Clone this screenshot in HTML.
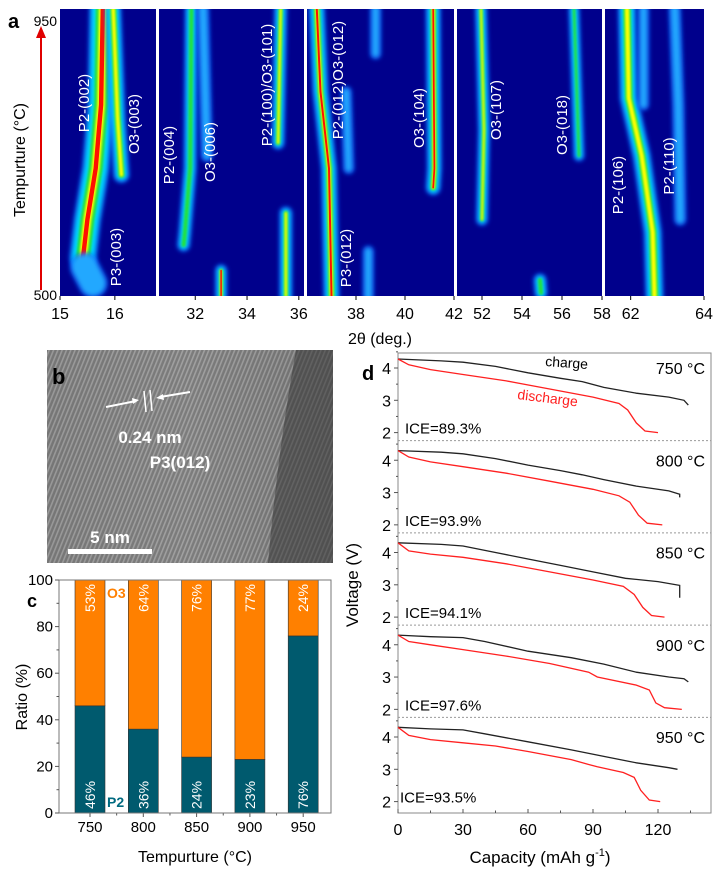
<!DOCTYPE html>
<html><head><meta charset="utf-8"><style>
html,body{margin:0;padding:0;background:#fff}
svg{display:block;font-family:"Liberation Sans",Arial,sans-serif}
</style></head><body>
<svg id="fig" width="718" height="872" viewBox="0 0 718 872" xmlns="http://www.w3.org/2000/svg">
<defs>
<filter id="bl" filterUnits="userSpaceOnUse" x="0" y="0" width="718" height="872"><feGaussianBlur stdDeviation="2.2"/></filter>
<filter id="bl2" filterUnits="userSpaceOnUse" x="0" y="0" width="718" height="872"><feGaussianBlur stdDeviation="1"/></filter>
<pattern id="lat" width="4" height="4" patternUnits="userSpaceOnUse" patternTransform="rotate(22)">
<rect width="4" height="4" fill="#7c7c7c"/><rect width="1.6" height="4" fill="#a0a0a0"/></pattern>
<linearGradient id="temg" x1="0" y1="0" x2="1" y2="0"><stop offset="0" stop-color="#000" stop-opacity="0.05"/><stop offset="0.5" stop-color="#000" stop-opacity="0"/><stop offset="1" stop-color="#000" stop-opacity="0.1"/></linearGradient>
</defs>
<g id="panelA"></g>
<g id="panelB">
<rect x="47" y="350" width="286" height="213" fill="url(#lat)"/>
<rect x="47" y="350" width="286" height="213" fill="url(#temg)"/>
<path d="M296 350 L333 350 L333 563 L268 563 Q278 450 296 350Z" fill="#303030" opacity="0.5"/>
<text x="52" y="384" font-size="22" font-weight="bold" fill="#000">b</text>
<line x1="106" y1="407" x2="136" y2="401" stroke="#fff" stroke-width="2"/>
<path d="M139 400 L132 398 L133 404Z" fill="#fff"/>
<line x1="160" y1="397" x2="190" y2="392" stroke="#fff" stroke-width="2"/>
<path d="M156 398 L163 394 L164 400Z" fill="#fff"/>
<line x1="144" y1="391" x2="146" y2="412" stroke="#fff" stroke-width="1.5"/>
<line x1="150" y1="390" x2="152" y2="411" stroke="#fff" stroke-width="1.5"/>
<text x="150" y="443" font-size="17" font-weight="bold" fill="#fff" text-anchor="middle">0.24 nm</text>
<text x="180" y="468" font-size="17" font-weight="bold" fill="#fff" text-anchor="middle">P3(012)</text>
<text x="110" y="543" font-size="17" font-weight="bold" fill="#fff" text-anchor="middle">5 nm</text>
<rect x="68" y="549" width="84" height="5" fill="#fff"/>
</g>
<g id="panelC"></g>
<g id="panelD"></g>
</svg>
<script>
var NS="http://www.w3.org/2000/svg";
function mk(p,t,a,txt){var e=document.createElementNS(NS,t);for(var k in a)e.setAttribute(k,a[k]);if(txt!==undefined)e.textContent=txt;p.appendChild(e);return e;}

/* ---------- Panel a data ---------- */
var aSubRanges=[[15,16.75],[30.6,36.2],[36,42],[50.75,58],[61.3,64]];
var aSubPix=[[60,156],[159,304],[307,454],[457,602],[605,704]];
var aTickVals=[[15,16],[32,34,36],[38,40,42],[52,54,56,58],[62,64]];
var aTickText=[["15","16"],["32","34","36"],["38","40","42"],["52","54","56","58"],["62","64"]];
var aStreakSub=[0,0,0,1,1,1,1,1,2,2,2,2,2,3,3,3,4,4,4];
var aStreakPts=[
 [[15.78,950],[15.75,800],[15.65,700],[15.5,620],[15.42,560]],
 [[15.97,950],[16.05,780],[16.12,690]],
 [[15.45,545],[15.6,520]],
 [[31.85,950],[31.8,700],[31.6,600],[31.55,580]],
 [[32.3,950],[32.45,720]],
 [[35.3,950],[35.2,740]],
 [[35.5,630],[35.5,500]],
 [[33.0,540],[33.0,500]],
 [[36.4,950],[36.55,820],[36.9,700],[37.0,500]],
 [[41.15,950],[41.2,700],[41.15,670]],
 [[38.8,950],[38.8,880]],
 [[38.5,570],[38.5,500]],
 [[37.6,820],[37.7,700]],
 [[51.95,950],[52.1,760],[52.0,620]],
 [[56.6,950],[56.85,720]],
 [[54.9,525],[54.95,505]],
 [[61.9,950],[61.95,810],[62.3,720],[62.6,600],[62.65,500]],
 [[63.2,950],[63.3,800],[63.35,620]],
 [[62.35,950],[62.35,800]]
];
var aStreakW=[20,9,22,6,5,6,6,5,9,8,4,4,4,5,4,6,11,5,4];
var aStreakLvl=[4,3,1,2,1,3,3,4,4,4,1,1,1,3,2,2,3,1,1];
var aTop=9,aBot=296;
function aY(T){return aTop+(950-T)/450*(aBot-aTop);}
function aX(s,d){var r=aSubRanges[s],p=aSubPix[s];return p[0]+(d-r[0])/(r[1]-r[0])*(p[1]-p[0]);}
(function(){
 var g=document.getElementById('panelA');
 for(var s=0;s<5;s++){
  var r=mk(g,'rect',{x:aSubPix[s][0],y:aTop,width:aSubPix[s][1]-aSubPix[s][0],height:aBot-aTop,fill:'#00008c'});
  
  
  var cl=mk(g,'clipPath',{id:'cl'+s});mk(cl,'rect',{x:aSubPix[s][0],y:aTop,width:aSubPix[s][1]-aSubPix[s][0],height:aBot-aTop});
 }
 var cols=['#1e90ff','#00d8ff','#20e040','#ffff00','#ff1000'];
 for(var i=0;i<aStreakPts.length;i++){
  var s=aStreakSub[i];
  var d='';aStreakPts[i].forEach(function(p,j){d+=(j?'L':'M')+aX(s,p[0]).toFixed(1)+' '+aY(p[1]).toFixed(1);});
  var gg=mk(g,'g',{'clip-path':'url(#cl'+s+')'});
  
  
  var w=aStreakW[i],L=aStreakLvl[i];
  mk(gg,'path',{d:d,stroke:'#1060ff',"stroke-width":w+8,fill:'none',"stroke-linecap":'round',filter:'url(#bl)',opacity:0.7});
  mk(gg,'path',{d:d,stroke:(L==1?'#20a8ff':cols[1]),"stroke-width":w+3,fill:'none',"stroke-linecap":'round',filter:'url(#bl)'});
  if(L>=2)mk(gg,'path',{d:d,stroke:cols[2],"stroke-width":Math.max(2,w*0.7),fill:'none',"stroke-linecap":'round',filter:'url(#bl2)'});
  if(L>=3)mk(gg,'path',{d:d,stroke:cols[3],"stroke-width":Math.max(1.5,w*0.4),fill:'none',"stroke-linecap":'round',filter:'url(#bl2)'});
  if(L>=4)mk(gg,'path',{d:d,stroke:cols[4],"stroke-width":Math.max(1.5,w*0.22),fill:'none',"stroke-linecap":'round'});
 }
 var labs=[["P2-(002)",85,103],["O3-(003)",135,124],["P3-(003)",117,257],["P2-(004)",170,155],["O3-(006)",211,152],["P2-(100)/O3-(101)",268,85],["P2-(012)O3-(012)",339,80],["P3-(012)",347,258],["O3-(104)",420,118],["O3-(107)",497,110],["O3-(018)",563,125],["P2-(106)",619,185],["P2-(110)",670,166]];
 labs.forEach(function(l){var t=mk(g,'text',{x:l[1],y:l[2],fill:'#fff',"font-size":15,"text-anchor":'middle',"dominant-baseline":'middle',transform:'rotate(-90 '+l[1]+' '+l[2]+')'},l[0]);
  
  });
 for(var s=0;s<5;s++){aTickVals[s].forEach(function(v,j){var x=aX(s,v);mk(g,'line',{x1:x,x2:x,y1:aBot,y2:aBot+4,stroke:'#000'});
  var t=mk(g,'text',{x:x,y:319,"font-size":16,"text-anchor":'middle'},aTickText[s][j]);
  
  });}
 var xt=mk(g,'text',{x:380,y:344,"font-size":16,"text-anchor":'middle'},'2θ (deg.)');
 
 
 var yt=mk(g,'text',{x:25,y:160,"font-size":16,"text-anchor":'middle',transform:'rotate(-90 25 160)'},'Tempurture (°C)');
 
 
 mk(g,'line',{x1:41,y1:290,x2:41,y2:36,stroke:'#e00000',"stroke-width":2});
 mk(g,'path',{d:'M36 38 L41 26 L46 38Z',fill:'#e00000'});
 var a=mk(g,'text',{x:8,y:28,"font-size":20,"font-weight":'bold'},'a');
 mk(g,'text',{x:57,y:26,"font-size":14,"text-anchor":'end'},'950');
 mk(g,'text',{x:57,y:300,"font-size":14,"text-anchor":'end'},'500');
})();

/* ---------- Panel c data ---------- */
var cCategories=["750","800","850","900","950"];
var cP2=[46,36,24,23,76];
var cO3=[54,64,76,77,24];
var cP2Labels=["46%","36%","24%","23%","76%"];
var cO3Labels=["53%","64%","76%","77%","24%"];
var cYTicks=[0,20,40,60,80,100];
(function(){
 var g=document.getElementById('panelC');
 var L=59,R=331,T=580,B=813;
 function y(v){return B-v/100*(B-T);}
 function x(i){return 90+i*53.3;}
 var bw=30;
 for(var i=0;i<cCategories.length;i++){
  var b1=mk(g,'rect',{x:x(i)-bw/2,y:y(cP2[i]),width:bw,height:y(0)-y(cP2[i]),fill:'#005a6e',stroke:'#333',"stroke-width":0.6});
  
  
  var b2=mk(g,'rect',{x:x(i)-bw/2,y:y(cP2[i]+cO3[i]),width:bw,height:y(cP2[i])-y(cP2[i]+cO3[i]),fill:'#ff8000',stroke:'#333',"stroke-width":0.6});
  
  
  var yy=y(100)+4;
  var t=mk(g,'text',{x:x(i)+5,y:yy,fill:'#fff',"font-size":14,"text-anchor":'end',transform:'rotate(-90 '+(x(i)+5)+' '+yy+')'},cO3Labels[i]);
  
  var y2=y(0)-4;
  var t2=mk(g,'text',{x:x(i)+5,y:y2,fill:'#fff',"font-size":14,transform:'rotate(-90 '+(x(i)+5)+' '+y2+')'},cP2Labels[i]);
  
  mk(g,'line',{x1:x(i),x2:x(i),y1:B,y2:B+4,stroke:'#555'});
  var tl=mk(g,'text',{x:x(i),y:832,"font-size":15,"text-anchor":'middle'},cCategories[i]);
  
  if(i<4)mk(g,'line',{x1:x(i)+26.65,x2:x(i)+26.65,y1:B,y2:B+2.5,stroke:'#555'});
 }
 mk(g,'rect',{x:L,y:T,width:R-L,height:B-T,fill:'none',stroke:'#777',"stroke-width":1});
 cYTicks.forEach(function(v){mk(g,'line',{x1:L-4,x2:L,y1:y(v),y2:y(v),stroke:'#555'});
  var t=mk(g,'text',{x:L-6,y:y(v)+5,"font-size":15,"text-anchor":'end'},String(v));
  
  if(v<100)mk(g,'line',{x1:L-2.5,x2:L,y1:y(v+10),y2:y(v+10),stroke:'#555'});});
 mk(g,'text',{x:107,y:598,"font-size":14,"font-weight":'bold',fill:'#ff8000'},'O3');
 mk(g,'text',{x:107,y:807,"font-size":14,"font-weight":'bold',fill:'#006a80'},'P2');
 var c=mk(g,'text',{x:27,y:607,"font-size":18,"font-weight":'bold'},'c');
 var yt=mk(g,'text',{x:27,y:697,"font-size":16,"text-anchor":'middle',transform:'rotate(-90 27 697)'},'Ratio (%)');
 
 var xt=mk(g,'text',{x:195,y:862,"font-size":16,"text-anchor":'middle'},'Tempurture (°C)');
 
})();

/* ---------- Panel d data ---------- */
var dTemps=["750 °C","800 °C","850 °C","900 °C","950 °C"];
var dICE=["ICE=89.3%","ICE=93.9%","ICE=94.1%","ICE=97.6%","ICE=93.5%"];
var dCharge750=[[0,4.28],[20,4.22],[30,4.18],[45,4.05],[60,3.85],[75,3.68],[85,3.58],[95,3.4],[110,3.22],[125,3.1],[132,3.0],[134,2.85]];
var dDis750=[[0,4.28],[5,4.1],[15,3.95],[30,3.8],[50,3.6],[70,3.35],[90,3.1],[102,2.9],[106,2.7],[110,2.3],[114,2.05],[120,2.0]];
var dCharge800=[[0,4.3],[20,4.25],[30,4.2],[45,4.05],[60,3.85],[75,3.68],[85,3.55],[95,3.4],[110,3.2],[125,3.05],[130,2.95],[130,2.85]];
var dDis800=[[0,4.3],[5,4.1],[15,3.95],[30,3.8],[50,3.6],[70,3.35],[90,3.1],[102,2.9],[107,2.7],[111,2.3],[115,2.05],[122,2.0]];
var dCharge850=[[0,4.3],[20,4.25],[30,4.2],[45,4.0],[60,3.8],[75,3.6],[90,3.4],[105,3.2],[120,3.1],[130,2.98],[130,2.6]];
var dDis850=[[0,4.3],[5,4.05],[15,3.95],[30,3.85],[50,3.65],[70,3.4],[90,3.15],[104,2.95],[109,2.7],[113,2.3],[117,2.05],[123,2.0]];
var dCharge900=[[0,4.3],[15,4.25],[30,4.22],[40,4.1],[60,3.8],[80,3.6],[95,3.4],[110,3.15],[125,3.0],[132,2.95],[134,2.85]];
var dDis900=[[0,4.3],[5,4.1],[15,4.0],[30,3.85],[50,3.65],[70,3.42],[88,3.15],[92,3.0],[110,2.75],[116,2.6],[119,2.2],[123,2.05],[131,2.0]];
var dCharge950=[[0,4.3],[15,4.25],[30,4.22],[40,4.1],[60,3.85],[80,3.6],[95,3.4],[110,3.2],[125,3.05],[129,3.0]];
var dDis950=[[0,4.3],[5,4.05],[15,3.92],[30,3.82],[45,3.72],[60,3.55],[80,3.3],[88,3.15],[92,3.08],[104,2.9],[109,2.75],[112,2.35],[116,2.05],[121,2.0]];
var dCharges=[dCharge750,dCharge800,dCharge850,dCharge900,dCharge950];
var dDischarges=[dDis750,dDis800,dDis850,dDis900,dDis950];
var dXTicks=[0,30,60,90,120];
var dYTicks=[2,3,4];
(function(){
 var g=document.getElementById('panelD');
 var L=398,R=711,T=353,B=813;
 function x(c){return L+c*(658-L)/120;}
 function y(k,v){return 368+k*92.25-(v-4)*32.3;}
 mk(g,'rect',{x:L,y:T,width:R-L,height:B-T,fill:'none',stroke:'#888',"stroke-width":1});
 for(var k=0;k<5;k++){
  if(k<4){var sep=mk(g,'line',{x1:L,x2:R,y1:y(k,1.75),y2:y(k,1.75),stroke:'#999',"stroke-dasharray":'2 2'});
   }
  dYTicks.forEach(function(v){mk(g,'line',{x1:L-4,x2:L,y1:y(k,v),y2:y(k,v),stroke:'#555'});
   mk(g,'line',{x1:L-2,x2:L,y1:y(k,v+0.5),y2:y(k,v+0.5),stroke:'#555'});
   var t=mk(g,'text',{x:L-7,y:y(k,v)+6,"font-size":16,"text-anchor":'end'},String(v));
   });
  function pathOf(arr){var d='';arr.forEach(function(p,j){d+=(j?'L':'M')+x(p[0]).toFixed(1)+' '+y(k,p[1]).toFixed(1);});return d;}
  var c=mk(g,'path',{d:pathOf(dCharges[k]),stroke:'#222',"stroke-width":1.3,fill:'none'});
  
  var dd=mk(g,'path',{d:pathOf(dDischarges[k]),stroke:'#ff2020',"stroke-width":1.3,fill:'none'});
  
  var tl=mk(g,'text',{x:705,y:y(k,4)+6,"font-size":16,"text-anchor":'end'},dTemps[k]);
  
  var ic=mk(g,'text',{x:(k==4?400:405),y:y(k,2)+1,"font-size":15},dICE[k]);
  
 }
 dXTicks.forEach(function(v){mk(g,'line',{x1:x(v),x2:x(v),y1:B,y2:B-4,stroke:'#555'});
  mk(g,'line',{x1:x(v+15),x2:x(v+15),y1:B,y2:B-2.5,stroke:'#555'});
  var t=mk(g,'text',{x:x(v),y:835,"font-size":16,"text-anchor":'middle'},String(v));
  });
 var ch=mk(g,'text',{x:545,y:366,"font-size":14,transform:'rotate(4 545 366)'},'charge');
 var dc=mk(g,'text',{x:517,y:399,"font-size":14,fill:'#ff2020',transform:'rotate(7 517 399)'},'discharge');
 var dl=mk(g,'text',{x:362,y:380,"font-size":20,"font-weight":'bold'},'d');
 var yt=mk(g,'text',{x:358,y:585,"font-size":17,"text-anchor":'middle',transform:'rotate(-90 358 585)'},'Voltage (V)');
 
 var xt=mk(g,'text',{x:540,y:863,"font-size":17,"text-anchor":'middle'},'Capacity (mAh g');
 
 var sp=mk(xt,'tspan',{dy:-7,"font-size":11},'-1');
 mk(xt,'tspan',{dy:7},')');
})();
</script>
</body></html>
